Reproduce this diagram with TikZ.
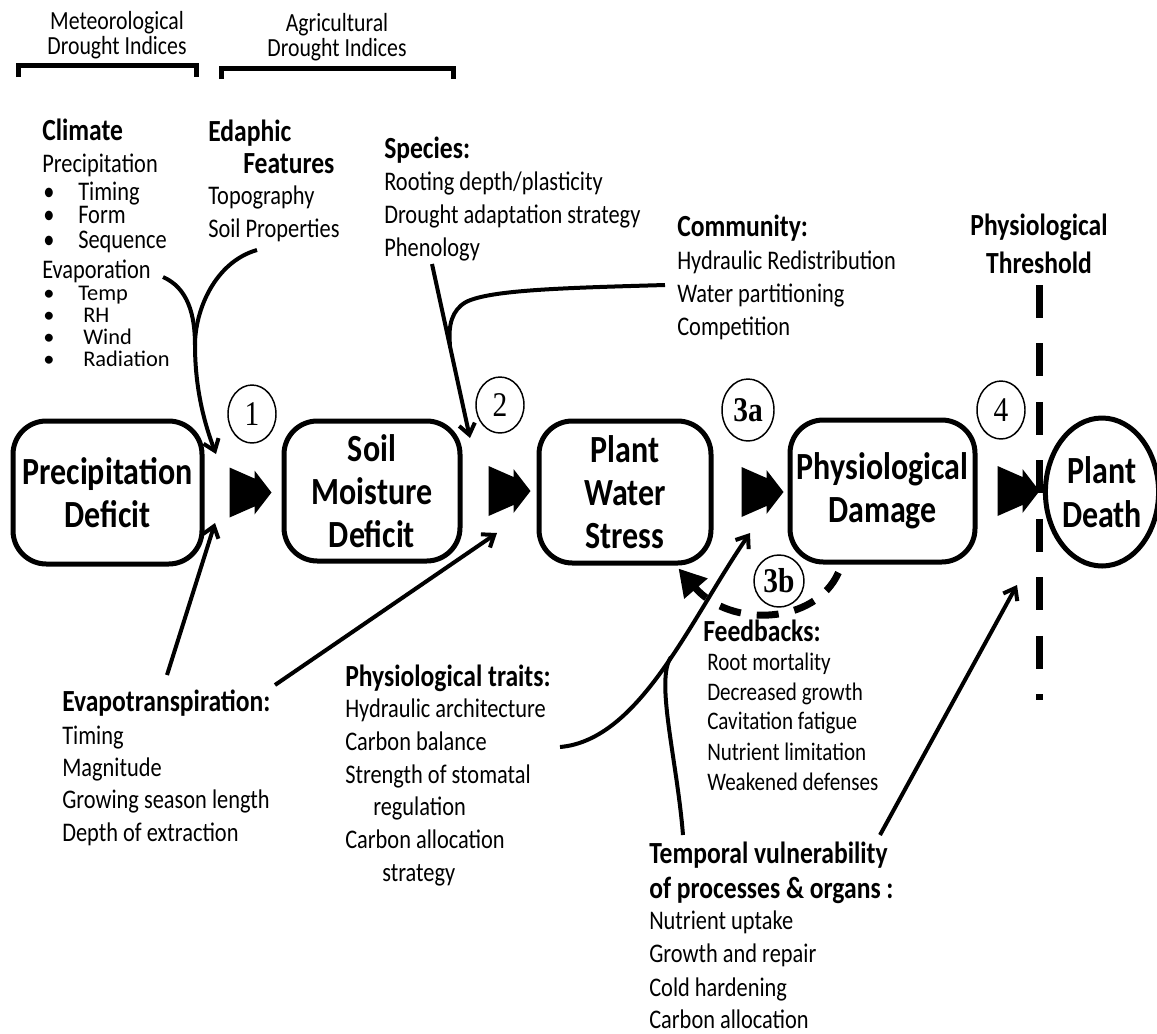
\documentclass[tikz,border=0pt]{standalone}
\usepackage{fontspec}
\setmainfont[FakeStretch=0.833]{Carlito}
\newfontfamily\plainfont{Carlito}
\newfontfamily\numfont[FakeStretch=0.85]{Liberation Serif}
\usetikzlibrary{arrows.meta,shapes.geometric,calc}
\newcommand\dblhead[1]{\fill[shift={(#1)}] (0,-25) -- (25,-14) -- (25,-22) -- (42,0) -- (25,22) -- (25,14) -- (0,25) -- cycle;}
\begin{document}
\begin{tikzpicture}[x=0.75pt,y=-0.75pt,
 body/.style={inner sep=0pt, anchor=base west, font=\fontsize{20.16}{24}\selectfont},
 flat/.style={inner sep=0pt, anchor=base west, font=\plainfont\fontsize{16.8}{20}\selectfont},
 tight/.style={text height=11pt, text depth=1pt},
 small/.style={inner sep=0pt, anchor=base west, font=\fontsize{18.96}{22}\selectfont},
 hdr/.style={inner sep=0pt, anchor=base west, font=\bfseries\fontsize{23.04}{27}\selectfont},
 toplabel/.style={inner sep=0pt, anchor=base, text height=11pt, text depth=1pt, font=\fontsize{19.6}{24}\selectfont},
 boxnode/.style={draw, line width=3.75pt, rounded corners=25pt, inner sep=0pt, align=center, font=\bfseries\fontsize{28.8}{32.5}\selectfont},
 numnode/.style={draw, ellipse, line width=1.1pt, inner sep=0pt, font=\numfont\fontsize{26}{26}\selectfont},
 conn/.style={line width=3pt, -{Straight Barb[length=8pt,width=12pt]}},
 branch/.style={line width=3pt},
 bracket/.style={line width=3.75pt},
 feedback/.style={line width=5.25pt, dash pattern=on 16.5pt off 12pt, -{Triangle[length=20pt,width=22pt]}},
 threshold/.style={line width=5.25pt, dash pattern=on 24.75pt off 19.1pt}
]
\useasboundingbox (0,0) rectangle (1157,1033);

% top indices
\node[toplabel] (met1) at (117,29) {Meteorological};
\node[toplabel] (met2) at (117,54) {Drought Indices};
\node[toplabel] (agr1) at (337,31) {Agricultural};
\node[toplabel] (agr2) at (337,56) {Drought Indices};
\draw[bracket] (18,77) -- (18,65) -- (196,65) -- (196,77);
\draw[bracket] (221,79) -- (221,68) -- (453,68) -- (453,79);

% main boxes
\node[boxnode, minimum width=141.75pt, minimum height=107.25pt] (pd) at (107.5,492.5) {Precipitation\\Deficit};
\node[boxnode, minimum width=132pt, minimum height=105pt] (smd) at (372,491) {Soil\\Moisture\\Deficit};
\node[boxnode, minimum width=129pt, minimum height=106.5pt] (pws) at (625,492) {Plant\\Water\\Stress};
\node[boxnode, minimum width=138.75pt, minimum height=106.5pt] (phd) at (882.5,491) {Physiological\\Damage};
\node[draw, ellipse, line width=3.75pt, minimum width=82.5pt, minimum height=111pt, inner sep=0pt, align=center, font=\bfseries\fontsize{28.8}{32.5}\selectfont] (death) at (1102,492) {Plant\\Death};

% double arrowheads
\coordinate (a1) at ($(pd.east)+(25,0)$);
\coordinate (a2) at ($(smd.east)+(26,0)$);
\coordinate (a3) at ($(pws.east)+(28,0)$);
\coordinate (a4) at ($(phd.east)+(20,0)$);
\dblhead{a1}
\dblhead{a2}
\dblhead{a3}
\dblhead{a4}

% numbers
\node[numnode, minimum width=36pt, minimum height=43.5pt] (n1) at (252,414) {1};
\node[numnode, minimum width=36pt, minimum height=42pt] (n2) at (500,405) {2};
\node[numnode, minimum width=39pt, minimum height=46.5pt] (n3a) at (748,410) {\bfseries 3a};
\node[numnode, minimum width=36pt, minimum height=43.5pt] (n4) at (1001,410) {4};

% threshold
\node[inner sep=0pt, align=center, font=\bfseries\fontsize{23.04}{28.5}\selectfont] (thr) at (1039,244) {Physiological\\Threshold};
\coordinate (th1) at (1039,285);
\coordinate (th2) at (1039,700);
\draw[threshold] (th1) -- (th2);

% Climate block
\node[hdr] (clim) at (42,140.5) {Climate};
\node[body, tight] (cl1) at (42,172.5) {Precipitation};
\foreach \t/\w/\y [count=\i] in {Timing/35/193, Form/35/216, Sequence/35/241}
  \node[body, tight] (cb\i) at (43,{\y+7.5}) {\makebox[\w\dimexpr 0.75pt\relax][l]{•}\t};
\node[body, tight] (cl2) at (42,278.5) {Evaporation};
\foreach \t/\w/\y [count=\i] in {Temp/35/294, RH/40/316, Wind/40/338, Radiation/40/360}
  \node[flat, tight] (ce\i) at (43,{\y+6.5}) {\makebox[\w\dimexpr 0.75pt\relax][l]{•}\t};

% Edaphic
\node[hdr] (eda1) at (208,141.5) {Edaphic};
\node[hdr] (eda2) at (243,173.5) {Features};
\node[body] (eda3) at (208,204.5) {Topography};
\node[body] (eda4) at (208,237.5) {Soil Properties};

% Species
\node[hdr] (sp0) at (384,158.5) {Species:};
\node[body] (sp1) at (384,190.5) {Rooting depth/plasticity};
\node[body] (sp2) at (384,223.5) {Drought adaptation strategy};
\node[body] (sp3) at (384,256.5) {Phenology};

% Community
\node[hdr] (co0) at (677,236.5) {Community:};
\foreach \t/\y [count=\i] in {Hydraulic Redistribution/262, Water partitioning/295, Competition/328}
  \node[body] (co\i) at (677,{\y+7.5}) {\t};

% Evapotranspiration
\node[hdr] (et0) at (62,711.5) {Evapotranspiration:};
\foreach \t/\y [count=\i] in {Timing/737, Magnitude/769, Growing season length/801, Depth of extraction/834}
  \node[body] (et\i) at (62,{\y+7.5}) {\t};

% Physiological traits
\node[hdr] (pt0) at (345,686.5) {Physiological traits:};
\foreach \t/\x/\y [count=\i] in {Hydraulic architecture/345/710, Carbon balance/345/743, Strength of stomatal/345/776, regulation/373/808, Carbon allocation/345/841, strategy/382/874}
  \node[body] (pt\i) at (\x,{\y+7.5}) {\t};

% Feedbacks
\node[hdr] (fb0) at (703,641.5) {Feedbacks:};
\foreach \t/\y [count=\i] in {Root mortality/663, Decreased growth/693, Cavitation fatigue/722, Nutrient limitation/753, Weakened defenses/783}
  \node[small] (fb\i) at (707,{\y+7}) {\t};

% Temporal
\node[hdr] (tv0) at (649,863.5) {Temporal vulnerability};
\node[hdr] (tv00) at (649,898.5) {of processes \& organs :};
\foreach \t/\y [count=\i] in {Nutrient uptake/922, Growth and repair/955, Cold hardening/989, Carbon allocation/1021}
  \node[body] (tv\i) at (649,{\y+7.5}) {\t};

% connectors group 1
\coordinate (evapEnd) at (163,277);
\coordinate (soilEnd) at (257,250);
\coordinate (j1) at (195,345);
\coordinate (t1) at (216,454);
\draw[branch] (evapEnd) .. controls (188,288) and (195,315) .. (j1);
\draw[branch] (soilEnd) .. controls (215,262) and (195,310) .. (j1);
\draw[conn] (j1) .. controls (195,390) and (205,425) .. (t1);
\coordinate (etA) at (167,675);
\coordinate (t1b) at (215,523);
\draw[conn] (etA) -- (t1b);

% group 2
\coordinate (phenEnd) at (432,264);
\coordinate (t2) at (470,438);
\draw[conn] (phenEnd) -- (t2);
\coordinate (commEnd) at (665,285);
\coordinate (j2) at (450,345);
\draw[branch] (commEnd) .. controls (560,288) and (490,290) .. (466,302) .. controls (452,310) and (448,325) .. (j2);
\coordinate (etB) at (275,685);
\coordinate (t2b) at (497,533);
\draw[conn] (etB) -- (t2b);

% group 3
\coordinate (ptEnd) at (560,747);
\coordinate (t3) at (750,533);
\draw[conn] (ptEnd) .. controls (640,740) and (690,620) .. (t3);
\coordinate (tvA) at (683,835);
\coordinate (j3) at (671,657);
\draw[branch] (tvA) .. controls (677,760) and (655,680) .. (j3);

% group 4
\coordinate (tvB) at (880,835);
\coordinate (t4) at (1017,585);
\draw[conn] (tvB) -- (t4);

% feedback 3b
\coordinate (fbS) at ($(phd.south)+(-44,8)$);
\coordinate (fbE) at ($(pws.south east)+(-35,3)$);
\draw[feedback] (fbS) .. controls (815,625) and (730,628) .. (fbE);
\node[numnode, fill=white, minimum width=37.5pt, minimum height=39pt] (n3b) at (779,581) {\bfseries 3b};

\end{tikzpicture}
\end{document}
